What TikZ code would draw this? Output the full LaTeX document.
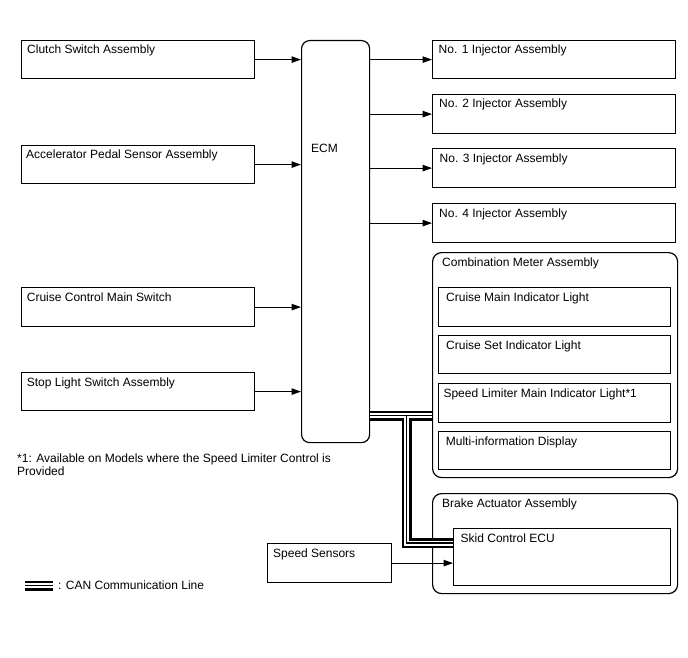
\documentclass[tikz,border=0pt]{standalone}
\usepackage{fontspec}
\setmainfont{Liberation Sans}
\usetikzlibrary{arrows.meta}
\begin{document}
\begin{tikzpicture}[x=1pt,y=-1pt,
  box/.style={draw, line width=1.2pt, rectangle, inner sep=0pt, anchor=north west},
  rbox/.style={box, rounded corners=9pt},
  lbl/.style={anchor=base west, inner sep=0pt, font=\fontsize{12}{13.5}\selectfont},
  arr/.style={-{Triangle[length=9.5pt,width=6.5pt]}, line width=1.1pt},
  canA/.style={line width=10pt, black},
  canB/.style={line width=5pt, white},
  canC/.style={line width=1.6pt, black}]
\useasboundingbox (0,0) rectangle (688,658);
\newcommand\mybox[8]{%
  \node[#1, minimum width={#5-#3}, minimum height={#6-#4}] (#2) at (#3,#4) {};
  \node[lbl] (#2-t) at ([xshift=#7pt,yshift=-14pt]#2.north west) {#8};}
% left column
\mybox{box}{clutch}{21}{40}{254}{78}{6}{Clutch Switch Assembly}
\mybox{box}{accel}{21}{145}{254}{183}{5}{Accelerator Pedal Sensor Assembly}
\mybox{box}{cruisesw}{21}{287}{254}{326}{5.7}{Cruise Control Main Switch}
\mybox{box}{stop}{21}{372}{254}{410}{5.7}{Stop Light Switch Assembly}
% ECM
\node[box, rounded corners=8pt, minimum width=68, minimum height=402] (ecm) at (301,40) {};
\node[lbl] (ecm-t) at (311,152.5) {ECM};
% injectors
\mybox{box}{inj1}{432}{40}{675}{78}{6.5}{No. 1 Injector Assembly}
\mybox{box}{inj2}{432}{94}{675}{133}{7}{No. 2 Injector Assembly}
\mybox{box}{inj3}{432}{148}{675}{187}{7.5}{No. 3 Injector Assembly}
\mybox{box}{inj4}{432}{203}{675}{242}{7}{No. 4 Injector Assembly}
% combination meter
\node[rbox, minimum width=245, minimum height=225] (combo) at (432,252) {};
\node[lbl] (combo-t) at ([xshift=10pt,yshift=-14.7pt]combo.north west) {Combination Meter Assembly};
\mybox{box}{cmain}{438}{287}{670}{326}{8}{Cruise Main Indicator Light}
\mybox{box}{cset}{438}{335}{670}{373}{8}{Cruise Set Indicator Light}
\mybox{box}{slim}{438}{383}{670}{422}{5.3}{Speed Limiter Main Indicator Light*1}
\mybox{box}{minfo}{438}{431}{670}{469}{7.7}{Multi-information Display}
% brake actuator
\node[rbox, minimum width=245, minimum height=100] (brake) at (432,493) {};
\node[lbl] (brake-t) at ([xshift=10pt,yshift=-14.3pt]brake.north west) {Brake Actuator Assembly};
\mybox{box}{skid}{453}{528}{670}{585}{7.5}{Skid Control ECU}
\mybox{box}{speed}{267}{543}{391}{582}{6}{Speed Sensors}
% arrows
\foreach \s in {clutch,accel,cruisesw,stop}
  \draw[arr] (\s.east) -- (\s.east -| ecm.west);
\foreach \s in {inj1,inj2,inj3,inj4}
  \draw[arr] (\s.west -| ecm.east) -- (\s.west);
\draw[arr] (speed.east) -- (speed.east -| skid.west);
% CAN lines
\coordinate (cj) at (406.5,415.5);
\coordinate (cb) at (406.5,543);
\coordinate (legA) at (25,585.5);
\coordinate (legB) at (53,585.5);
\foreach \st in {canA,canB,canC}{
  \draw[\st] (cj -| ecm.east) -- (cj -| combo.west);
  \draw[\st] (cj) -- (cb) -- (cb -| skid.west);
  \draw[\st] (legA) -- (legB);
}
\node[lbl] (leg-t) at (58,589) {: CAN Communication Line};
% footnote
\node[lbl] (foot1) at (17,462.3) {*1: Available on Models where the Speed Limiter Control is};
\node[lbl] (foot2) at (17,475.8) {Provided};
\end{tikzpicture}
\end{document}
